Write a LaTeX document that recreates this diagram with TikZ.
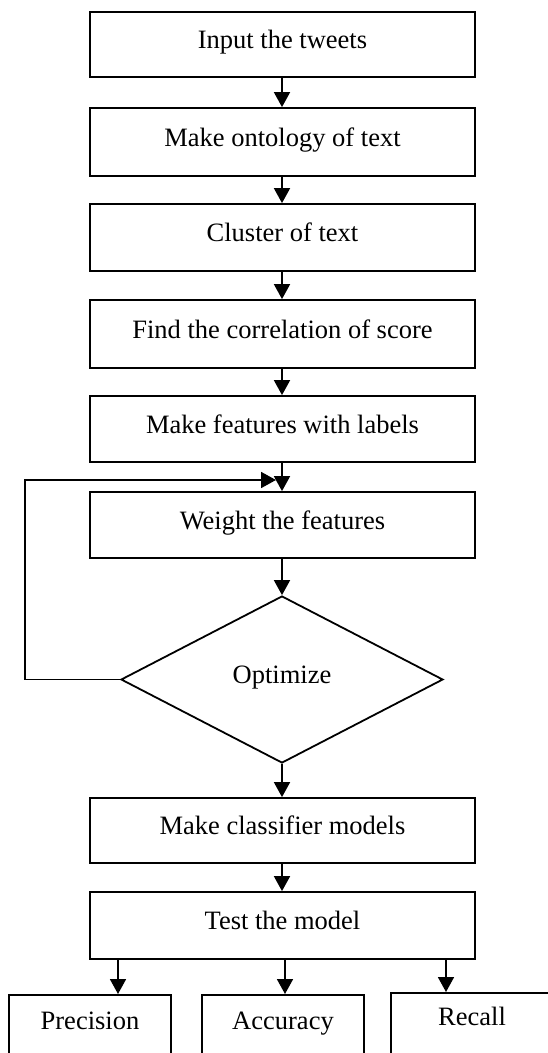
\documentclass[tikz,border=0pt]{standalone}
\usepackage{fontspec}
\setmainfont{Liberation Serif}
\usetikzlibrary{arrows.meta,shapes.geometric}
\begin{document}
\begin{tikzpicture}[x=1pt,y=-1pt,
  txt/.style={font=\fontsize{26.5}{30}\selectfont,text height=18pt,text depth=10pt},
  box/.style={draw,line width=1.8pt,rectangle,minimum width=385pt,inner sep=0pt,txt},
  smallbox/.style={draw,line width=1.8pt,rectangle,minimum width=162pt,minimum height=62pt,inner sep=0pt,txt},
  arr/.style={line width=1.8pt,-{Triangle[length=15pt,width=16pt]}},
  ln/.style={line width=1.8pt}]
\useasboundingbox (0,0) rectangle (548,1053);
\clip (0,0) rectangle (548,1053);
\node[box,minimum height=65pt] (b1) at (282.5,44.5) {Input the tweets};
\node[box,minimum height=68pt] (b2) at (282.5,142) {Make ontology of text};
\node[box,minimum height=67pt] (b3) at (282.5,237.5) {Cluster of text};
\node[box,minimum height=68pt] (b4) at (282.5,334) {Find the correlation of score};
\node[box,minimum height=66pt] (b5) at (282.5,429) {Make features with labels};
\node[box,minimum height=66pt] (b6) at (282.5,525) {Weight the features};
\node[draw,line width=1.8pt,diamond,aspect=1.93,minimum width=322pt,minimum height=167pt,inner sep=0pt,txt] (opt) at (282,679.5) {Optimize};
\node[box,minimum height=65pt] (b7) at (282.5,830.5) {Make classifier models};
\node[box,minimum height=67pt] (b8) at (282.5,925.5) {Test the model};
\node[smallbox,anchor=north] (prec) at (90,994) {Precision};
\node[smallbox,anchor=north] (acc) at (283,994) {Accuracy};
\node[smallbox,anchor=north] (rec) at (472,992) {\raisebox{2pt}{Recall}};
\draw[arr] (b1.south -| 282,0) -- (b2.north -| 282,0);
\draw[arr] (b2.south -| 282,0) -- (b3.north -| 282,0);
\draw[arr] (b3.south -| 282,0) -- (b4.north -| 282,0);
\draw[arr] (b4.south -| 282,0) -- (b5.north -| 282,0);
\draw[arr] (b5.south -| 282,0) -- (b6.north -| 282,0);
\draw[arr] (b6.south -| 282,0) -- (opt.north);
\draw[arr] (opt.south) -- (b7.north -| 282,0);
\draw[arr] (b7.south -| 282,0) -- (b8.north -| 282,0);
\coordinate (j) at (276,480);
\coordinate (lc) at (25,480);
\draw[arr] (opt.west) -- (opt.west -| lc) -- (lc) -- (j);
\coordinate (t1) at (118,0);
\coordinate (t2) at (285,0);
\coordinate (t3) at (446,0);
\draw[arr] (b8.south -| t1) -- (prec.north -| t1);
\draw[arr] (b8.south -| t2) -- (acc.north -| t2);
\draw[arr] (b8.south -| t3) -- (rec.north -| t3);
\end{tikzpicture}
\end{document}
